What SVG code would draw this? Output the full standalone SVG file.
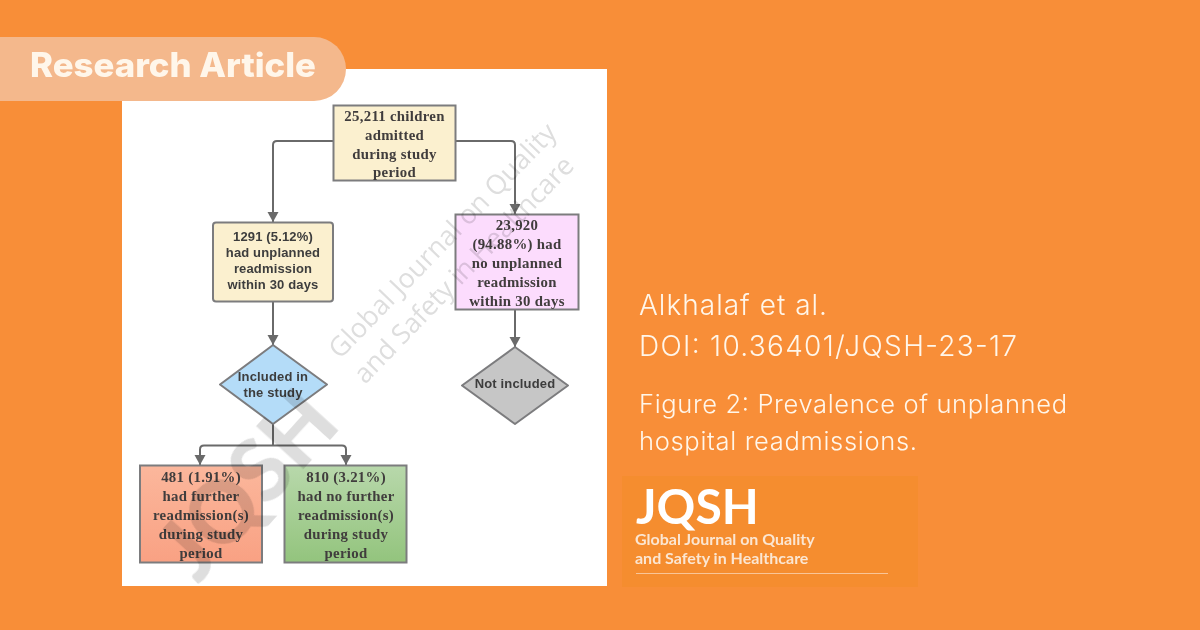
<svg xmlns="http://www.w3.org/2000/svg" width="1200" height="630" viewBox="0 0 1200 630">
<style>
.box{stroke:#7c7c7e;stroke-width:2}
.s{font-family:"Liberation Serif",serif;font-weight:700;font-size:14.8px;letter-spacing:.3px;fill:#403c3c;text-anchor:middle}
.a{font-family:"Liberation Sans",sans-serif;font-weight:700;font-size:13px;letter-spacing:.15px;fill:#3c3c3c;text-anchor:middle}
.c{fill:none;stroke:#6a6a6a;stroke-width:2}
.w{font-family:"Open Sans",sans-serif;font-size:27px;fill:#dedede}
.r{font-family:"Inter",sans-serif;font-weight:300;fill:#fff6ea}
.l{font-family:"Lato",sans-serif;font-weight:700;font-size:16px;fill:#fbe6d2}
</style>
<defs>
<marker id="ah" markerUnits="userSpaceOnUse" markerWidth="12" markerHeight="12" refX="10" refY="5.500" orient="auto-start-reverse" viewBox="0 0 12 12"><path d="M0 0L10 5.500L0 11Z" fill="#6a6a6a"/></marker>
<linearGradient id="go" x1="0" y1="0" x2="0" y2="1"><stop offset="0" stop-color="#fbb79c"/><stop offset="1" stop-color="#f9a183"/></linearGradient>
<linearGradient id="gg" x1="0" y1="0" x2="0" y2="1"><stop offset="0" stop-color="#b8d8ab"/><stop offset="1" stop-color="#93c47d"/></linearGradient>
<filter id="b" x="-5%" y="-5%" width="110%" height="110%"><feGaussianBlur stdDeviation="0.4"/></filter>
</defs>
<rect width="1200" height="630" fill="#f88e38"/>
<rect x="122" y="69" width="485" height="517" fill="#fff"/>
<g id="connectors" filter="url(#b)">
<path class="c" d="M333 141H277Q273 141 273 145V222" marker-end="url(#ah)"/>
<path class="c" d="M456 141H511Q515 141 515 145V214" marker-end="url(#ah)"/>
<path class="c" d="M273 302V345" marker-end="url(#ah)"/>
<path class="c" d="M515 310V347" marker-end="url(#ah)"/>
<path class="c" d="M273 424V445"/>
<path class="c" d="M346 465V449.500Q346 445.500 342 445.500H204Q200 445.500 200 449.500V465" marker-start="url(#ah)" marker-end="url(#ah)"/>
</g>
<g filter="url(#b)">
<g id="n1"><rect class="box" x="333.500" y="105.500" width="122" height="75" fill="#fbf0cf"/>
<text class="s" x="394.500" y="121">25,211 children</text><text class="s" x="394.500" y="140">admitted</text><text class="s" x="394.500" y="159">during study</text><text class="s" x="394.500" y="177">period</text></g>
<g id="n2"><rect class="box" x="213" y="222.500" width="120" height="79" rx="3" fill="#fbf0cf"/>
<text class="a" x="273" y="241">1291 (5.12%)</text><text class="a" x="273" y="257">had unplanned</text><text class="a" x="273" y="273">readmission</text><text class="a" x="273" y="289">within 30 days</text></g>
<g id="n3"><rect class="box" x="455.500" y="214.500" width="123" height="95" fill="#fcdcfd"/>
<text class="s" x="517" y="230">23,920</text><text class="s" x="517" y="249">(94.88%) had</text><text class="s" x="517" y="268">no unplanned</text><text class="s" x="517" y="287">readmission</text><text class="s" x="517" y="306">within 30 days</text></g>
<g id="n4"><path class="box" stroke-linejoin="round" d="M273 345L327 384.500L273 424L220 384.500Z" fill="#b4dcf8"/>
<text class="a" x="273" y="381">Included in</text><text class="a" x="273" y="397">the study</text></g>
<g id="n5"><path class="box" stroke-linejoin="round" d="M515 347L568 385.500L515 424L462 385.500Z" fill="#c6c6c6"/>
<text class="a" x="515" y="388">Not included</text></g>
<g id="n6"><rect class="box" x="140" y="465.500" width="122" height="97" fill="url(#go)"/>
<text class="s" x="201" y="482">481 (1.91%)</text><text class="s" x="201" y="501">had further</text><text class="s" x="201" y="520">readmission(s)</text><text class="s" x="201" y="539">during study</text><text class="s" x="201" y="558">period</text></g>
<g id="n7"><rect class="box" x="284.500" y="465.500" width="122" height="97" fill="url(#gg)"/>
<text class="s" x="346" y="482">810 (3.21%)</text><text class="s" x="346" y="501">had no further</text><text class="s" x="346" y="520">readmission(s)</text><text class="s" x="346" y="539">during study</text><text class="s" x="346" y="558">period</text></g>
</g>
<g id="watermark" style="mix-blend-mode:multiply" filter="url(#b)">
<text class="w" transform="translate(340 360) rotate(-46)" textLength="314">Global Journal on Quality</text>
<text class="w" transform="translate(365 385) rotate(-46)" textLength="303">and Safety in Healthcare</text>
<text transform="translate(198 585) rotate(-47.700)" font-family="Lato,sans-serif" font-weight="900" font-size="88" fill="#dedede" textLength="215" lengthAdjust="spacingAndGlyphs">JQSH</text>
</g>
<path d="M0 37H314A32 32 0 0 1 314 101H0Z" fill="#f4b88c"/>
<text x="30" y="77" font-family="Inter,sans-serif" font-weight="800" font-size="33.500" fill="#fff6ea" textLength="286" lengthAdjust="spacingAndGlyphs">Research Article</text>
<text class="r" x="639" y="315" font-size="28" textLength="188">Alkhalaf et al.</text>
<text class="r" x="639" y="356" font-size="28" textLength="378">DOI: 10.36401/JQSH-23-17</text>
<text class="r" x="639" y="413" font-size="25.500" textLength="428">Figure 2: Prevalence of unplanned</text>
<text class="r" x="639" y="450" font-size="25.500" textLength="278">hospital readmissions.</text>
<g id="logo">
<rect x="622" y="476" width="296" height="111" fill="#f58d2f"/>
<text x="636" y="524" font-family="Lato,sans-serif" font-weight="700" font-size="48" fill="#fff">JQSH</text>
<text class="l" x="635" y="545">Global Journal on Quality</text>
<text class="l" x="635" y="564">and Safety in Healthcare</text>
<path d="M636 573.500H888" stroke="#f9c597" stroke-width="1"/>
</g>
</svg>
